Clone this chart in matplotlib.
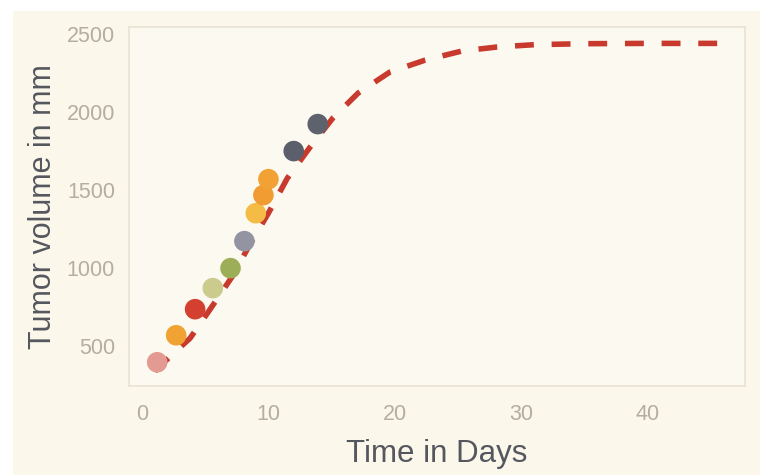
import matplotlib.pyplot as plt
from matplotlib.patches import Rectangle

plt.rcParams['font.family'] = ['Liberation Sans', 'DejaVu Sans']

# measured tumor volumes
days = [1.2, 2.7, 4.2, 5.6, 7.0, 8.1, 9.0, 9.6, 10.0, 12.0, 13.9]
volume = [397, 570, 737, 872, 1000, 1173, 1352, 1468, 1570, 1750, 1923]
dot_colors = ['#E39A92', '#F0A232', '#D4402F', '#CACB8C', '#9DAE58', '#9394A2',
              '#F4BC45', '#F09C32', '#F2A235', '#5B5F6B', '#5E626D']

# fitted growth curve
fit_days = [1.0, 2.5, 3.8, 5.45, 7.1, 8.5, 10.0, 11.5, 13.3, 15.1, 17.1, 19.6,
            22.4, 25.3, 28.1, 31.1, 35.0, 40.0, 46.0]
fit_volume = [340, 455, 551, 744, 942, 1147, 1353, 1577, 1776, 1962, 2122, 2256,
              2333, 2391, 2417, 2432, 2438, 2440, 2440]

fig = plt.figure(figsize=(7.6, 4.75), dpi=100)
fig.patch.set_facecolor('white')
# cream backing panel
fig.add_artist(Rectangle((13/760, 0), 1, 1 - 11/475, transform=fig.transFigure,
                         facecolor='#FBF7EA', edgecolor='none', zorder=-10))

ax = fig.add_axes([129/760, 1 - 386/475, (745-129)/760, (386-27)/475])
ax.set_facecolor('#FCFAF0')
for s in ax.spines.values():
	s.set_color('#E8E3D3')
	s.set_linewidth(1.2)

ax.plot(fit_days, fit_volume, color='#C83A2E', lw=4, dashes=(3.4, 3.2),
        solid_capstyle='butt', dash_capstyle='butt', zorder=2)
ax.scatter(days, volume, s=220, c=dot_colors, edgecolors='none', zorder=3)

ax.set_xlim(-1.03, 47.7)
ax.set_ylim(245, 2545)
ax.set_xticks([0, 10, 20, 30, 40])
ax.set_yticks([500, 1000, 1500, 2000, 2500])
ax.tick_params(length=0, labelsize=15.5, labelcolor='#B3ADA3')
ax.tick_params(axis='y', pad=10)
ax.tick_params(axis='x', pad=13)

ax.set_xlabel('Time in Days', fontsize=22.5, color='#55575F', labelpad=10)
ax.set_ylabel('Tumor volume in mm', fontsize=22, color='#55575F', labelpad=6)

plt.savefig('out.png', dpi=100)
